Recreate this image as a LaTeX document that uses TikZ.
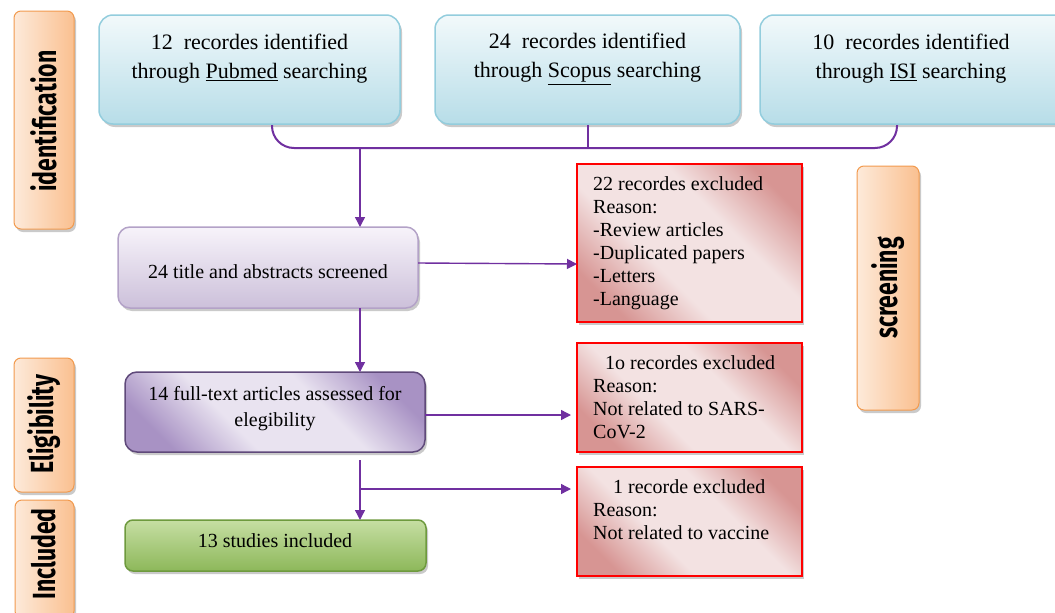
\documentclass[tikz,border=0pt]{standalone}
\usepackage{fontspec}
\setmainfont{Liberation Serif}
\newfontfamily\sidefont[FakeStretch=0.72]{Fira Sans}
\usetikzlibrary{arrows.meta,shadows,calc}
\definecolor{pur}{HTML}{7030A0}
\definecolor{orL}{HTML}{FDEADA}
\definecolor{orD}{HTML}{FAC090}
\definecolor{orB}{HTML}{F29A4E}
\definecolor{cyT}{HTML}{F2F9FB}
\definecolor{cyB}{HTML}{B7DDE8}
\definecolor{cyE}{HTML}{93CDDD}
\definecolor{lvT}{HTML}{F7F3FA}
\definecolor{lvB}{HTML}{CCC0DA}
\definecolor{lvE}{HTML}{B3A2C7}
\definecolor{puD}{HTML}{A892C4}
\definecolor{puL}{HTML}{E9E3F0}
\definecolor{puE}{HTML}{5F497A}
\definecolor{grT}{HTML}{C6DEA3}
\definecolor{grB}{HTML}{8DB85A}
\definecolor{grE}{HTML}{6E9A3E}
\definecolor{rdD}{HTML}{D79593}
\definecolor{rdL}{HTML}{F3E2E2}
\pgfdeclarehorizontalshading{redsh}{100bp}{color(0bp)=(rdD); color(24bp)=(rdD); color(40bp)=(rdL); color(60bp)=(rdL); color(76bp)=(rdD); color(100bp)=(rdD)}
\pgfdeclarehorizontalshading{pursh}{100bp}{color(0bp)=(puD); color(24bp)=(puD); color(40bp)=(puL); color(60bp)=(puL); color(76bp)=(puD); color(100bp)=(puD)}
\tikzset{
  x=1pt, y=-1pt,
  shad/.style={drop shadow={shadow xshift=2pt, shadow yshift=-3pt, opacity=0.35, fill=black!60}},
  sidebox/.style={draw=orB, line width=1pt, rounded corners=7pt, left color=orL, right color=orD, shad},
  sidetext/.style={rotate=90, font=\sidefont\bfseries\fontsize{32}{32}\selectfont, text=black},
  topbox/.style={draw=cyE, line width=1.5pt, rounded corners=14pt, top color=cyT, bottom color=cyB, shad},
  lavbox/.style={draw=lvE, line width=1.5pt, rounded corners=12pt, top color=lvT, bottom color=lvB, shad},
  purbox/.style={draw=puE, line width=1.5pt, rounded corners=12pt, shading=pursh, shading angle=45, shad},
  grnbox/.style={draw=grE, line width=1.5pt, rounded corners=8pt, top color=grT, bottom color=grB, shad},
  redbox/.style={draw=red, line width=1.6pt, shading=redsh, shading angle=45, shad},
  toptext/.style={align=center, font=\fontsize{22}{29}\selectfont},
  midtext/.style={align=center, font=\fontsize{20}{26}\selectfont},
  redtext/.style={align=left, anchor=north west, inner sep=0pt, font=\fontsize{20}{23}\selectfont},
  conn/.style={draw=pur, line width=1.4pt},
  arr/.style={conn, -{Triangle[length=10pt,width=10pt]}},
}
\begin{document}
\begin{tikzpicture}
\useasboundingbox (0,0) rectangle (1055,613);
% side labels
\shade[sidebox] (14,11) rectangle (74,229);
\node[sidetext] (lid) at (44,121) {identification};
\shade[sidebox] (14,358) rectangle (74,492);
\node[sidetext] (lel) at (44,424) {Eligibility};
\shade[sidebox] (15,500) rectangle (74,618);
\node[sidetext] (lin) at (44,554) {Included};
\shade[sidebox] (857,166) rectangle (919,410);
\node[sidetext] (lsc) at (888,288) {screening};
% top boxes
\shade[topbox] (99,15) rectangle (400,124);
\node[toptext] (pub) at (249.5,59) {12~~recordes identified\\through \underline{Pubmed} searching};
\shade[topbox] (435,15) rectangle (740,124);
\node[toptext] (sco) at (587.5,59) {24~~recordes identified\\through \underline{Scopus} searching};
\shade[topbox] (760,15) rectangle (1070,124);
\node[toptext] (isi) at (911,59) {10~~recordes identified\\through \underline{ISI} searching};
\coordinate (pubS) at (272,125);
\coordinate (scoS) at (588,125);
\coordinate (isiS) at (897,125);
\coordinate (join) at (360,148);
% middle boxes
\shade[lavbox] (118,227) rectangle (418,308);
\node[midtext] (scr) at (268,272) {24 title and abstracts screened};
\shade[purbox] (125,372) rectangle (425,452);
\node[midtext] (ful) at (275,409) {14 full-text articles assessed for\\elegibility};
\shade[grnbox] (125,520) rectangle (426,571);
\node[midtext] (inc) at (275,541) {13 studies included};
% red boxes
\shade[redbox] (577,164) rectangle (802,322);
\node[redtext] (ex1) at (593,176) {22 recordes excluded\\Reason:\\-Review articles\\-Duplicated papers\\-Letters\\-Language};
\shade[redbox] (577,343) rectangle (802,452);
\node[redtext] (ex2) at (593,355) {\hspace*{12pt}1o recordes excluded\\Reason:\\Not related to SARS-\\CoV-2};
\shade[redbox] (577,467) rectangle (802,576);
\node[redtext] (ex3) at (593,479) {\hspace*{20pt}1 recorde excluded\\Reason:\\Not related to vaccine};
% connectors
\draw[conn, line width=2pt, rounded corners=22pt] (pubS) |- (isiS |- join) -- (isiS);
\draw[conn, line width=1.5pt] (scoS) -- (scoS |- join);
\draw[arr] (join) -- (360,227);
\draw[arr] (418,263) -- (577,264);
\draw[arr] (360,308) -- (360,372);
\draw[arr] (425,415) -- (571,415);
\draw[arr] (360,460) -- (360,520);
\draw[arr] (360,489) -- (571,489);
\end{tikzpicture}
\end{document}
